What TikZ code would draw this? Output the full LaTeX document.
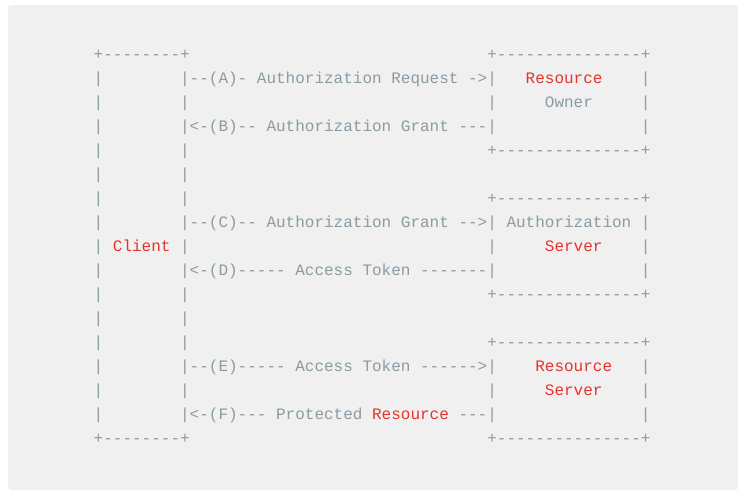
\documentclass[tikz,border=0pt]{standalone}
\usepackage{fontspec}
\setmonofont{Liberation Mono}
\definecolor{txt}{HTML}{8A9BA4}
\definecolor{hot}{HTML}{E53330}
\definecolor{panel}{HTML}{F0F0F0}
\tikzset{
  asc/.style={anchor=base west, inner sep=0pt, outer sep=0pt, font=\ttfamily\fontsize{16}{24}\selectfont, text=txt},
  red/.style={asc, text=hot}
}
\newcommand{\seg}[5]{\node[#4] (#1) at ({93.7+9.6*#3},{59.5+24*#2}) {#5};}
\begin{document}
\begin{tikzpicture}[x=1pt,y=-1pt]
\useasboundingbox (0,0) rectangle (746,498);
\fill[white] (0,0) rectangle (746,498);
\fill[panel, rounded corners=3pt] (8,5) rectangle (738,490);
% row 0
\seg{a0}{0}{0}{asc}{+--------+}
\seg{b0}{0}{41}{asc}{+---------------+}
% row 1
\seg{a1}{1}{0}{asc}{|}
\seg{m1}{1}{9}{asc}{|--(A)- Authorization Request ->|}
\seg{t1}{1}{45}{red}{Resource}
\seg{e1}{1}{57}{asc}{|}
% row 2
\seg{a2}{2}{0}{asc}{|}
\seg{m2}{2}{9}{asc}{|}
\seg{b2}{2}{41}{asc}{|}
\seg{t2}{2}{47}{asc}{Owner}
\seg{e2}{2}{57}{asc}{|}
% row 3
\seg{a3}{3}{0}{asc}{|}
\seg{m3}{3}{9}{asc}{|<-(B)-- Authorization Grant ---|}
\seg{e3}{3}{57}{asc}{|}
% row 4
\seg{a4}{4}{0}{asc}{|}
\seg{m4}{4}{9}{asc}{|}
\seg{b4}{4}{41}{asc}{+---------------+}
% row 5
\seg{a5}{5}{0}{asc}{|}
\seg{m5}{5}{9}{asc}{|}
% row 6
\seg{a6}{6}{0}{asc}{|}
\seg{m6}{6}{9}{asc}{|}
\seg{b6}{6}{41}{asc}{+---------------+}
% row 7
\seg{a7}{7}{0}{asc}{|}
\seg{m7}{7}{9}{asc}{|--(C)-- Authorization Grant -->| Authorization |}
% row 8
\seg{a8}{8}{0}{asc}{|}
\seg{c8}{8}{2}{red}{Client}
\seg{m8}{8}{9}{asc}{|}
\seg{b8}{8}{41}{asc}{|}
\seg{t8}{8}{47}{red}{Server}
\seg{e8}{8}{57}{asc}{|}
% row 9
\seg{a9}{9}{0}{asc}{|}
\seg{m9}{9}{9}{asc}{|<-(D)----- Access Token -------|}
\seg{e9}{9}{57}{asc}{|}
% row 10
\seg{a10}{10}{0}{asc}{|}
\seg{m10}{10}{9}{asc}{|}
\seg{b10}{10}{41}{asc}{+---------------+}
% row 11
\seg{a11}{11}{0}{asc}{|}
\seg{m11}{11}{9}{asc}{|}
% row 12
\seg{a12}{12}{0}{asc}{|}
\seg{m12}{12}{9}{asc}{|}
\seg{b12}{12}{41}{asc}{+---------------+}
% row 13
\seg{a13}{13}{0}{asc}{|}
\seg{m13}{13}{9}{asc}{|--(E)----- Access Token ------>|}
\seg{t13}{13}{46}{red}{Resource}
\seg{e13}{13}{57}{asc}{|}
% row 14
\seg{a14}{14}{0}{asc}{|}
\seg{m14}{14}{9}{asc}{|}
\seg{b14}{14}{41}{asc}{|}
\seg{t14}{14}{47}{red}{Server}
\seg{e14}{14}{57}{asc}{|}
% row 15
\seg{a15}{15}{0}{asc}{|}
\seg{m15}{15}{9}{asc}{|<-(F)--- Protected}
\seg{r15}{15}{29}{red}{Resource}
\seg{n15}{15}{38}{asc}{---|}
\seg{e15}{15}{57}{asc}{|}
% row 16
\seg{a16}{16}{0}{asc}{+--------+}
\seg{b16}{16}{41}{asc}{+---------------+}
\end{tikzpicture}
\end{document}
